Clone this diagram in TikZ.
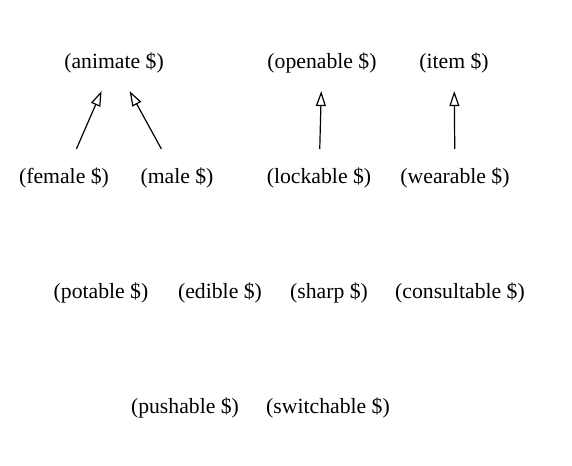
\documentclass[tikz,border=0pt]{standalone}
\usepackage{fontspec}
\setmainfont{Liberation Serif}
\usetikzlibrary{arrows.meta}

\begin{document}
\begin{tikzpicture}[x=1bp, y=1bp, >={Triangle[open, length=15bp, width=10bp]},
		line width=1.2bp,
		trait/.style={inner sep=0pt, minimum height=56bp, minimum width=60bp, font=\fontsize{21.7bp}{24bp}\selectfont}]
	
	\useasboundingbox (0,0) rectangle (572,466);
	
	% Top row
	\node[trait] (animate)  at (114, 403.5) {(animate \$)};
	\node[trait] (openable) at (322, 403.5) {(openable \$)};
	\node[trait] (item)     at (454, 403.5) {(item \$)};
	
	% Second row
	\node[trait] (female)   at (64, 288.5)  {(female \$)};
	\node[trait] (male)     at (177, 288.5) {(male \$)};
	\node[trait] (lockable) at (319, 288.5) {(lockable \$)};
	\node[trait] (wearable) at (455, 288.5) {(wearable \$)};
	
	% Third row
	\node[trait] (potable)     at (101, 173.5) {(potable \$)};
	\node[trait] (edible)      at (220, 173.5) {(edible \$)};
	\node[trait] (sharp)       at (329, 173.5) {(sharp \$)};
	\node[trait] (consultable) at (460, 173.5) {(consultable \$)};
	
	% Bottom row
	\node[trait] (pushable)   at (185, 58.5) {(pushable \$)};
	\node[trait] (switchable) at (328, 58.5) {(switchable \$)};
	
	% Inheritance
	\draw[->] (female) -- (animate);
	\draw[->] (male) -- (animate);
	\draw[->] (lockable) -- (openable);
	\draw[->] (wearable) -- (item);
	
\end{tikzpicture}
\end{document}
